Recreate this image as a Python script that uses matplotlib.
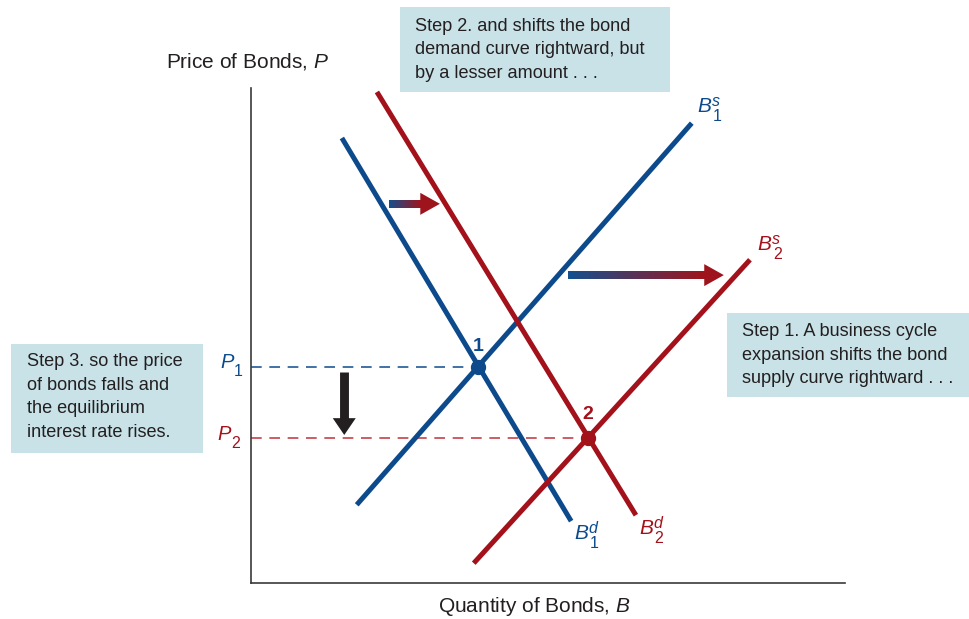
import matplotlib.pyplot as plt
import numpy as np
from matplotlib.collections import LineCollection
from matplotlib.patches import Polygon, Rectangle

plt.rcParams["font.family"] = ["Liberation Sans", "DejaVu Sans"]
plt.rcParams["mathtext.fontset"] = "custom"
plt.rcParams["mathtext.rm"] = "Liberation Sans"
plt.rcParams["mathtext.it"] = "Liberation Sans:italic"

BLUE = "#0d4a8c"
RED = "#a3111b"
TEXT = "#231f20"
BOX = "#c8e2e7"

# curves (quantity, price) endpoints
demand1_q = [1.53, 5.39]
demand1_p = [8.99, 1.25]
demand2_q = [2.12, 6.48]
demand2_p = [9.92, 1.37]
supply1_q = [1.78, 7.42]
supply1_p = [1.58, 9.29]
supply2_q = [3.75, 8.40]
supply2_p = [0.40, 6.53]

# equilibria
eq_q = [3.82, 5.67]
eq_p = [4.37, 2.93]
eq_names = ["1", "2"]

W, H = 969, 619
fig = plt.figure(figsize=(W / 100, H / 100), dpi=100)
ax = fig.add_axes([251 / W, 1 - 583 / H, 594 / W, 495 / H])
ax.set_xlim(0, 10)
ax.set_ylim(0, 10)
for s in ["top", "right"]:
    ax.spines[s].set_visible(False)
for s in ["left", "bottom"]:
    ax.spines[s].set_color("#3a3a3a")
    ax.spines[s].set_linewidth(1.2)
ax.set_xticks([])
ax.set_yticks([])

# px -> data helpers for arrow sizes
dx_px = 10 / 594
dy_px = 10 / 495

# dashed price levels
ax.plot([0, eq_q[0]], [eq_p[0]] * 2, color=BLUE, lw=1.1, dashes=(7, 5))
ax.plot([0, eq_q[1]], [eq_p[1]] * 2, color="#c0303a", lw=1.1, dashes=(7, 5))

ax.plot(demand1_q, demand1_p, color=BLUE, lw=3.6, solid_capstyle="butt")
ax.plot(supply1_q, supply1_p, color=BLUE, lw=3.6, solid_capstyle="butt")
ax.plot(demand2_q, demand2_p, color=RED, lw=3.6, solid_capstyle="butt")
ax.plot(supply2_q, supply2_p, color=RED, lw=3.6, solid_capstyle="butt")

ax.plot(eq_q[0], eq_p[0], "o", color=BLUE, ms=10, zorder=5)
ax.plot(eq_q[1], eq_p[1], "o", color=RED, ms=10, zorder=5)
ax.text(eq_q[0], eq_p[0] + 0.41, eq_names[0], color=BLUE, fontsize=14,
        fontweight="bold", ha="center", va="center")
ax.text(eq_q[1], eq_p[1] + 0.48, eq_names[1], color=RED, fontsize=14,
        fontweight="bold", ha="center", va="center")


def grad_arrow(x0, x1, y, shaft=8, head_len=19, head_w=22):
    c0 = np.array([0x14, 0x4f, 0x8e]) / 255
    c1 = np.array([0x9e, 0x14, 0x1c]) / 255
    xe = x1 - head_len * dx_px
    xs = np.linspace(x0, xe, 60)
    segs = [[(xs[i], y), (xs[i + 1] + 0.01, y)] for i in range(len(xs) - 1)]
    t = np.linspace(0, 1, len(segs))
    cols = [tuple(c0 + (c1 - c0) * ti) for ti in t]
    lc = LineCollection(segs, colors=cols, linewidths=shaft * 0.72, capstyle="butt")
    ax.add_collection(lc)
    hw = head_w / 2 * dy_px
    ax.add_patch(Polygon([(xe - 0.01, y - hw), (x1, y), (xe - 0.01, y + hw)],
                         closed=True, color=c1, lw=0))


grad_arrow(2.32, 3.18, 7.66)
grad_arrow(5.34, 7.96, 6.22)

# black downward arrow
ax.plot([1.57, 1.57], [4.26, 3.3], color=TEXT, lw=6.4, solid_capstyle="butt")
hx = 11.5 * dx_px
ax.add_patch(Polygon([(1.57 - hx, 3.33), (1.57, 2.99), (1.57 + hx, 3.33)],
                     closed=True, color=TEXT, lw=0))


def sym(x, y, base, sup, sub, color, size=15, sub_size=11.5, off=(13, 10)):
    # base letter with stacked superscript / subscript (offsets in pixels)
    ax.text(x, y, base, color=color, fontsize=size, style="italic",
            ha="center", va="center", clip_on=False)
    if sup:
        ax.annotate(sup, (x, y), xytext=(12 * 0.72, 5 * 0.72),
                    textcoords="offset points", color=color, fontsize=sub_size,
                    style="italic", ha="center", va="center", annotation_clip=False)
    ax.annotate(sub, (x, y), xytext=(off[0] * 0.72, -off[1] * 0.72),
                textcoords="offset points", color=color, fontsize=sub_size,
                ha="center", va="center", annotation_clip=False)


sym(7.63, 9.62, "B", "s", "1", BLUE)
sym(8.64, 6.83, "B", "s", "2", RED)
sym(5.56, 1.0, "B", "d", "1", BLUE)
sym(6.65, 1.1, "B", "d", "2", RED)
sym(-0.40, 4.45, "P", None, "1", BLUE, size=14.5, off=(11, 9))
sym(-0.45, 3.0, "P", None, "2", RED, size=14.5, off=(11, 9))

fig.text(166 / W, 1 - 62 / H, "Price of Bonds, $P$", fontsize=15, color=TEXT,
         ha="left", va="center")
fig.text(534 / W, 1 - 607 / H, "Quantity of Bonds, $B$", fontsize=15, color=TEXT,
         ha="center", va="center")


def note(x0, y0, x1, y1, tx, ty, s):
    fig.patches.append(Rectangle((x0 / W, 1 - y1 / H), (x1 - x0) / W, (y1 - y0) / H,
                                 transform=fig.transFigure, facecolor=BOX,
                                 edgecolor="none", zorder=0))
    fig.text(tx / W, 1 - ty / H, s, fontsize=13.1, color=TEXT, ha="left",
             va="center", linespacing=1.52)


note(400, 7, 670, 92, 415, 50,
     "Step 2. and shifts the bond\ndemand curve rightward, but\nby a lesser amount . . .")
note(727, 313, 969, 397, 742, 355,
     "Step 1. A business cycle\nexpansion shifts the bond\nsupply curve rightward . . .")
note(11, 344, 203, 453, 27, 397,
     "Step 3. so the price\nof bonds falls and\nthe equilibrium\ninterest rate rises.")

fig.savefig("out.png", dpi=100)
